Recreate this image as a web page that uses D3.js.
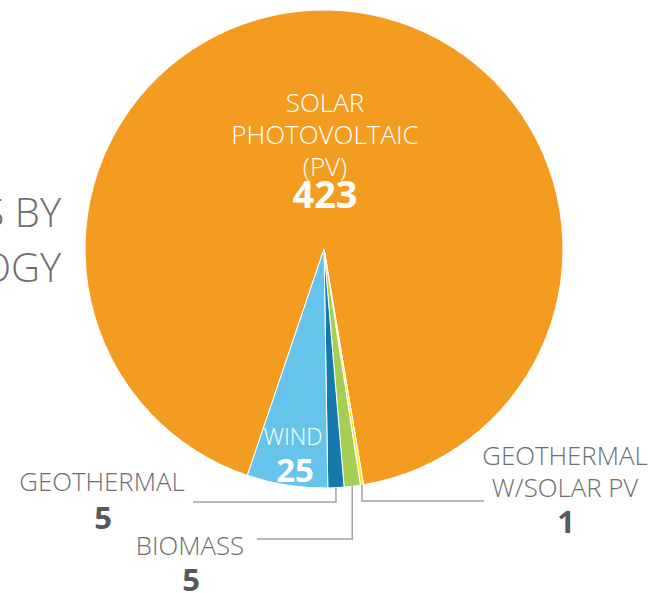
<!DOCTYPE html>
<html>
<head>
<meta charset="utf-8">
<script src="https://cdn.jsdelivr.net/npm/d3@7"></script>
<style>
  html, body { margin: 0; padding: 0; background: #fff; }
  svg { display: block; }
  text { font-family: "Open Sans", "Lato", sans-serif; }
</style>
</head>
<body>
<svg id="chart" width="652" height="593"></svg>
<script>
// chart data
const categories = ['SOLAR PHOTOVOLTAIC (PV)', 'GEOTHERMAL W/SOLAR PV', 'BIOMASS', 'GEOTHERMAL', 'WIND'];
const values = [423, 1, 5, 5, 25];
const colors = ['#F49C20', '#F7EC2E', '#A6CD54', '#1679AC', '#66C4EA'];
const titleLines = ['PROJECTS BY', 'TECHNOLOGY'];

const svg = d3.select('#chart');

const cx = 324,
    cy = 249,
    radius = 239;

const data = categories.map((name, i) => ({ name, value: values[i], color: colors[i] }));

const pie = d3.pie()
    .sort(null)
    .value(d => d.value)
    .startAngle(-161.3 * Math.PI / 180)
    .endAngle((360 - 161.3) * Math.PI / 180);

const arc = d3.arc()
    .innerRadius(0)
    .outerRadius(radius);

const arcs = pie(data);

// title, cut by the left edge of the picture
svg.append('g')
    .selectAll('text')
    .data(titleLines)
    .join('text')
    .attr('x', 61)
    .attr('y', (d, i) => 227 + i * 55)
    .attr('text-anchor', 'end')
    .attr('font-size', 40)
    .attr('font-weight', 300)
    .attr('fill', '#6d6e71')
    .text(d => d);

const g = svg.append('g')
    .attr('transform', `translate(${cx},${cy})`);

g.selectAll('path')
    .data(arcs)
    .join('path')
    .attr('d', arc)
    .attr('fill', d => d.data.color)
    .attr('stroke', '#fff')
    .attr('stroke-width', 1)
    .attr('stroke-linejoin', 'round');

// labels inside the slices
const solar = arcs[0];
const solarText = g.append('text')
    .attr('text-anchor', 'middle')
    .attr('fill', '#fff');
['SOLAR', 'PHOTOVOLTAIC', '(PV)'].forEach((t, i) => {
    solarText.append('tspan')
        .attr('x', 1)
        .attr('y', -137 + i * 32)
        .attr('font-size', 26)
        .attr('font-weight', 300)
        .text(t);
});
g.append('text')
    .attr('x', 1)
    .attr('y', -41)
    .attr('text-anchor', 'middle')
    .attr('fill', '#fff')
    .attr('font-size', 38)
    .attr('font-weight', 700)
    .text(solar.data.value);

const wind = arcs[4];
g.append('text')
    .attr('x', -31)
    .attr('y', 196)
    .attr('text-anchor', 'middle')
    .attr('fill', '#fff')
    .attr('font-size', 23)
    .attr('font-weight', 300)
    .text(wind.data.name);
g.append('text')
    .attr('x', -29)
    .attr('y', 233)
    .attr('text-anchor', 'middle')
    .attr('fill', '#fff')
    .attr('font-size', 33)
    .attr('font-weight', 700)
    .text(wind.data.value);

// outside labels with leader lines
const outside = [
    { d: arcs[3], lineY: 502, endX: 193, lines: ['GEOTHERMAL'], x: 102, y: 491, numY: 529 },
    { d: arcs[2], lineY: 539, endX: 257, lines: ['BIOMASS'], x: 190, y: 555, numY: 591 },
    { d: arcs[1], lineY: 501, endX: 484, lines: ['GEOTHERMAL', 'W/SOLAR PV'], x: 565, y: 465, numY: 533 }
];

outside.forEach(o => {
    const mid = (o.d.startAngle + o.d.endAngle) / 2;
    const px = cx + radius * Math.sin(mid),
        py = cy - radius * Math.cos(mid);

    svg.append('path')
        .attr('d', d3.line()([[px, py], [px, o.lineY], [o.endX, o.lineY]]))
        .attr('fill', 'none')
        .attr('stroke', '#a0a2a5')
        .attr('stroke-width', 1.5);

    const label = svg.append('text')
        .attr('text-anchor', 'middle')
        .attr('fill', '#6d6e71');
    o.lines.forEach((t, i) => {
        label.append('tspan')
            .attr('x', o.x)
            .attr('y', o.y + i * 32)
            .attr('font-size', 25.8)
            .attr('font-weight', 300)
            .text(t);
    });

    svg.append('text')
        .attr('x', o.x + 1)
        .attr('y', o.numY)
        .attr('text-anchor', 'middle')
        .attr('fill', '#58595b')
        .attr('font-size', 31)
        .attr('font-weight', 700)
        .text(o.d.data.value);
});
</script>
</body>
</html>
